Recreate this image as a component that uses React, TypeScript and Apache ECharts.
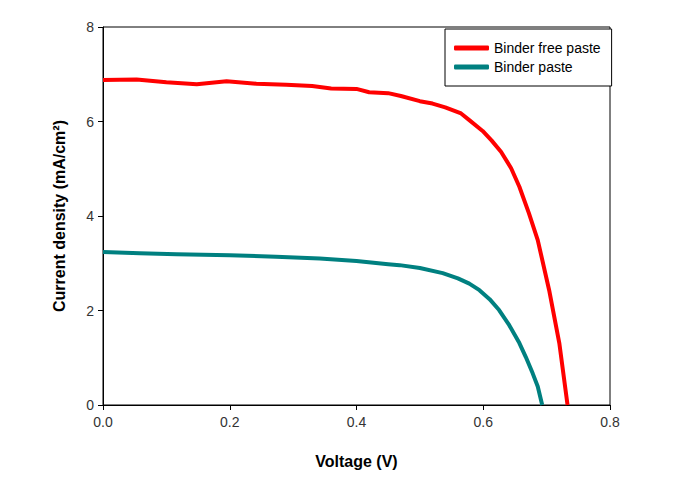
import React, { useEffect, useRef } from "react";
import * as echarts from "echarts";

const xTickLabels = ["0.0", "0.2", "0.4", "0.6", "0.8"];
const yTickLabels = ["0", "2", "4", "6", "8"];

const seriesNames = ["Binder free paste", "Binder paste"];

const freeVoltage = [0, 0.053, 0.1, 0.148, 0.195, 0.242, 0.289, 0.33, 0.36, 0.4, 0.42, 0.45, 0.47, 0.5, 0.52, 0.54, 0.565, 0.578, 0.599, 0.613, 0.628, 0.644, 0.657, 0.672, 0.686, 0.704, 0.72, 0.733];
const freeCurrent = [6.88, 6.89, 6.83, 6.79, 6.85, 6.8, 6.78, 6.75, 6.7, 6.69, 6.62, 6.6, 6.54, 6.43, 6.38, 6.3, 6.17, 6.03, 5.8, 5.6, 5.36, 5.01, 4.62, 4.06, 3.49, 2.43, 1.31, 0];

const binderVoltage = [0, 0.058, 0.116, 0.2, 0.273, 0.342, 0.4, 0.45, 0.468, 0.5, 0.536, 0.56, 0.578, 0.594, 0.61, 0.625, 0.641, 0.657, 0.667, 0.678, 0.686, 0.693];
const binderCurrent = [3.24, 3.21, 3.19, 3.17, 3.14, 3.1, 3.05, 2.98, 2.96, 2.9, 2.79, 2.68, 2.57, 2.43, 2.24, 2.01, 1.69, 1.31, 1.02, 0.67, 0.39, 0];

const FONT = "Arial, 'Liberation Sans', sans-serif";

export default function App() {
  const ref = useRef<HTMLDivElement>(null);
  useEffect(() => {
    document.body.style.margin = "0";
    const chart = echarts.init(ref.current!, null, { renderer: "svg" });
    const pair = (xs: number[], ys: number[]) => xs.map((x, i) => [x, ys[i]]);
    chart.setOption({
      animation: false,
      backgroundColor: "#fff",
      grid: {
        left: 103,
        right: 67,
        top: 27,
        bottom: 75,
        show: true,
        borderColor: "#000",
        borderWidth: 1,
        backgroundColor: "transparent",
      },
      legend: {
        orient: "vertical",
        left: 445,
        top: 29,
        padding: [12, 11, 12, 9],
        backgroundColor: "#fff",
        borderColor: "#000",
        borderWidth: 1,
        itemWidth: 35,
        itemHeight: 5,
        itemGap: 5,
        icon: "roundRect",
        textStyle: { fontFamily: FONT, fontSize: 14, color: "#000" },
        data: seriesNames,
      },
      xAxis: {
        type: "value",
        min: 0,
        max: 0.8,
        interval: 0.2,
        name: "Voltage (V)",
        nameLocation: "middle",
        nameGap: 48,
        nameTextStyle: { fontFamily: FONT, fontSize: 16, fontWeight: "bold", color: "#000" },
        axisLine: { show: true, onZero: false, lineStyle: { color: "#000", width: 1 } },
        axisTick: { show: true, inside: false, length: 5, lineStyle: { color: "#000" } },
        axisLabel: {
          fontFamily: FONT,
          fontSize: 14,
          color: "#333",
          margin: 10,
          formatter: (v: number) => xTickLabels[Math.round(v / 0.2)] ?? v.toFixed(1),
        },
        splitLine: { show: false },
      },
      yAxis: {
        type: "value",
        min: 0,
        max: 8,
        interval: 2,
        name: "Current density (mA/cm²)",
        nameLocation: "middle",
        nameGap: 36,
        nameTextStyle: { fontFamily: FONT, fontSize: 16, fontWeight: "bold", color: "#000" },
        axisLine: { show: true, onZero: false, lineStyle: { color: "#000", width: 1 } },
        axisTick: { show: true, inside: false, length: 5, lineStyle: { color: "#000" } },
        axisLabel: {
          fontFamily: FONT,
          fontSize: 14,
          color: "#333",
          margin: 9,
          formatter: (v: number) => yTickLabels[Math.round(v / 2)] ?? String(v),
        },
        splitLine: { show: false },
      },
      series: [
        {
          name: seriesNames[0],
          type: "line",
          data: pair(freeVoltage, freeCurrent),
          showSymbol: false,
          smooth: false,
          color: "#ff0000",
          lineStyle: { color: "#ff0000", width: 4, join: "round" },
          z: 3,
        },
        {
          name: seriesNames[1],
          type: "line",
          data: pair(binderVoltage, binderCurrent),
          showSymbol: false,
          smooth: false,
          color: "#008080",
          lineStyle: { color: "#008080", width: 4, join: "round" },
          z: 3,
        },
      ],
    });
    return () => chart.dispose();
  }, []);
  return <div ref={ref} style={{ width: 677, height: 480, position: "absolute", left: 0, top: 0 }} />;
}
